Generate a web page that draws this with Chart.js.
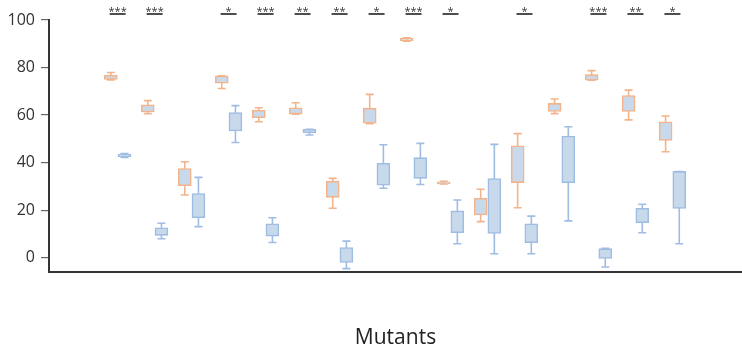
<!DOCTYPE html>
<html>
<head>
<meta charset="utf-8">
<script src="https://cdn.jsdelivr.net/npm/chart.js@4.4.0/dist/chart.umd.min.js"></script>
<style>
  html, body { margin: 0; padding: 0; background: #fff; }
  #wrap { width: 742px; height: 349px; }
</style>
</head>
<body>
<div id="wrap"><canvas id="boxChart"></canvas></div>
<script>
// 16 mutantes, cada uno con una caja naranja y una azul
const mutants = ['M1','M2','M3','M4','M5','M6','M7','M8','M9','M10','M11','M12','M13','M14','M15','M16'];

const orangeLow  = [74.8, 60.6, 26.4, 71.2, 57.2, 60.4, 20.8, 56.4, 91.1, 31.0, 15.2, 21.0, 60.6, 74.7, 58.0, 44.6];
const orangeQ1   = [75.0, 61.3, 30.3, 73.4, 58.9, 60.4, 25.4, 56.6, 91.3, 31.1, 18.0, 31.6, 61.5, 74.7, 61.5, 49.3];
const orangeQ3   = [76.8, 64.3, 37.5, 76.5, 62.0, 63.1, 32.2, 62.9, 92.3, 31.9, 25.0, 47.1, 64.9, 77.0, 68.2, 57.2];
const orangeHigh = [77.9, 66.1, 40.4, 76.5, 63.1, 65.2, 33.4, 68.7, 92.5, 32.1, 28.8, 52.2, 66.8, 78.7, 70.5, 59.6];

const blueLow  = [42.2, 8.0, 13.1, 48.5, 6.4, 51.6, -4.6, 29.2, 30.8, 5.9, 1.7, 1.7, 15.5, -3.9, 10.5, 5.9];
const blueQ1   = [42.4, 9.4, 16.8, 53.3, 9.1, 52.6, -2.0, 30.5, 33.4, 10.5, 10.2, 6.3, 31.5, -0.3, 14.7, 20.7];
const blueQ3   = [43.6, 12.6, 27.0, 61.1, 14.3, 54.0, 4.3, 39.7, 42.1, 19.7, 33.3, 14.3, 51.2, 3.8, 20.8, 36.3];
const blueHigh = [43.8, 14.5, 33.8, 64.0, 16.8, 54.0, 7.0, 47.5, 48.1, 24.3, 47.7, 17.5, 55.1, 4.0, 22.5, 36.3];

// marcas de significancia sobre cada grupo ('' = sin marca)
const significance = ['***','***','','*','***','**','**','*','***','*','','*','','***','**','*'];

const yTicks = [0, 20, 40, 60, 80, 100];

const naranja = '#f3b48b';
const azul = '#9fbce3';
const relleno = '#c9d9ec';
const desplazamiento = 0.185;

function cajas(q1, q3, offset) {
    return q1.map((v, i) => ({ x: i + offset, y: [v, q3[i]] }));
}

// Bigotes (low-high) y remates, dibujados con las escalas del grafico
const bigotesPlugin = {
    id: 'bigotes',
    beforeDatasetsDraw(chart) {
        const { ctx, scales: { x, y } } = chart;
        const series = [
            { low: orangeLow, high: orangeHigh, off: -desplazamiento, color: naranja },
            { low: blueLow, high: blueHigh, off: desplazamiento, color: azul }
        ];
        ctx.save();
        ctx.lineWidth = 1.6;
        series.forEach(s => {
            ctx.strokeStyle = s.color;
            s.low.forEach((lo, i) => {
                const px = x.getPixelForValue(i + s.off);
                const yLo = y.getPixelForValue(lo);
                const yHi = y.getPixelForValue(s.high[i]);
                ctx.beginPath();
                ctx.moveTo(px, yLo);
                ctx.lineTo(px, yHi);
                ctx.moveTo(px - 4, yLo);
                ctx.lineTo(px + 4, yLo);
                ctx.moveTo(px - 4, yHi);
                ctx.lineTo(px + 4, yHi);
                ctx.stroke();
            });
        });
        ctx.restore();
    },
    afterDraw(chart) {
        const { ctx, scales: { x } } = chart;
        ctx.save();
        ctx.fillStyle = '#333';
        ctx.strokeStyle = '#222';
        ctx.lineWidth = 1.6;
        ctx.font = '11px "Open Sans"';
        ctx.textAlign = 'center';
        ctx.textBaseline = 'alphabetic';
        significance.forEach((s, i) => {
            if (!s) return;
            const px = x.getPixelForValue(i);
            ctx.fillText(s, px, 14.5);
            ctx.beginPath();
            ctx.moveTo(px - 8, 14);
            ctx.lineTo(px + 8, 14);
            ctx.stroke();
        });
        ctx.restore();
    }
};

const ctx = document.getElementById('boxChart').getContext('2d');
const boxChart = new Chart(ctx, {
    type: 'bar',
    data: {
        datasets: [
            {
                label: 'Naranja',
                data: cajas(orangeQ1, orangeQ3, -desplazamiento),
                backgroundColor: relleno,
                borderColor: naranja,
                borderWidth: 1.6,
                borderSkipped: false,
                barThickness: 13,
                grouped: false
            },
            {
                label: 'Azul',
                data: cajas(blueQ1, blueQ3, desplazamiento),
                backgroundColor: relleno,
                borderColor: azul,
                borderWidth: 1.6,
                borderSkipped: false,
                barThickness: 13,
                grouped: false
            }
        ]
    },
    options: {
        responsive: true,
        maintainAspectRatio: false,
        animation: false,
        layout: { padding: { top: 20, right: 0, left: 0, bottom: 0 } },
        plugins: {
            legend: { display: false },
            tooltip: { enabled: false }
        },
        scales: {
            x: {
                type: 'linear',
                min: -0.815,
                max: 15.84,
                grid: { display: true, drawOnChartArea: false, drawTicks: false },
                border: { display: true, color: '#333', width: 2 },
                ticks: { display: false },
                title: {
                    display: true,
                    text: 'Mutants',
                    color: '#222',
                    font: { family: '"Open Sans"', size: 21, lineHeight: 1 },
                    padding: { top: 0, bottom: 0 }
                },
                afterFit(scale) { scale.height = 77; }
            },
            y: {
                min: -6,
                max: 100,
                grid: { display: true, drawOnChartArea: false, drawTicks: true, tickLength: 8, tickColor: '#666', lineWidth: 1.2 },
                border: { display: true, color: '#333', width: 2 },
                afterBuildTicks(scale) { scale.ticks = yTicks.map(v => ({ value: v })); },
                ticks: {
                    color: '#333',
                    padding: 6,
                    font: { family: '"Open Sans"', size: 16 }
                },
                afterFit(scale) { scale.width = 49; }
            }
        }
    },
    plugins: [bigotesPlugin]
});
</script>
</body>
</html>
